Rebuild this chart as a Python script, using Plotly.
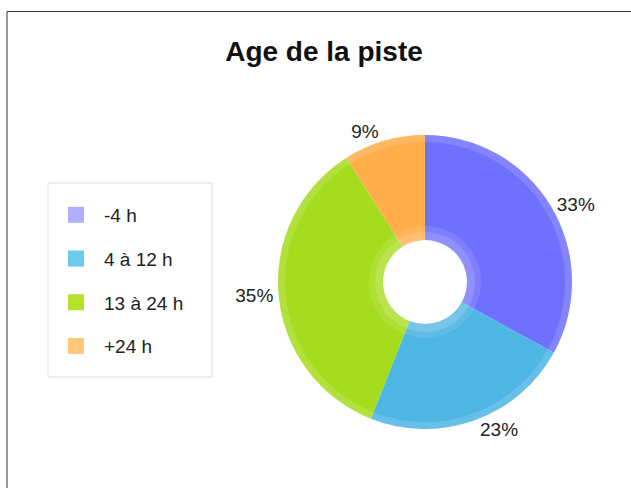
import plotly.graph_objects as go

# data
categories = ["-4 h", "4 à 12 h", "13 à 24 h", "+24 h"]
values = [33, 23, 35, 9]
colors = ["#7070FF", "#4DB6E3", "#A6DC1E", "#FFAE4A"]
legend_colors = ["#B0B0FF", "#6ACBEA", "#B4E22A", "#FFC87A"]

W, H = 631, 488
cx, cy, R = 425, 282, 147   # donut centre / radius in px
r_hole = 42


def dom(r):
    return dict(x=[(cx - r)/W, (cx + r)/W], y=[1 - (cy + r)/H, 1 - (cy - r)/H])


fig = go.Figure()

# donut
fig.add_trace(go.Pie(
    labels=categories, values=values, hole=r_hole/R,
    sort=False, direction="clockwise", rotation=0,
    marker=dict(colors=colors, line=dict(width=0)),
    textinfo="percent", texttemplate="%{percent:.0%}",
    textposition="outside", outsidetextfont=dict(size=19, color="#222"),
    domain=dom(R), showlegend=False, hoverinfo="label+percent",
))

# light rim on the outside and soft glow round the hole (the bevel look)
rings = [(R - 7, R, 0.14), (r_hole, r_hole + 14, 0.10), (r_hole, r_hole + 8, 0.14)]
for r_in, r_out, a in rings:
    fig.add_trace(go.Pie(
        labels=categories, values=values, hole=r_in/r_out, sort=False,
        marker=dict(colors=["rgba(255,255,255,%s)" % a]*4, line=dict(width=0)),
        textinfo="none", domain=dom(r_out), showlegend=False, hoverinfo="skip",
    ))

# legend entries (one group each so the gap can be spaced like the original)
for name, c in zip(categories, legend_colors):
    fig.add_trace(go.Scatter(
        x=[None], y=[None], mode="markers", name=name, legendgroup=name,
        marker=dict(symbol="square", size=16, color=c, line=dict(width=0)),
    ))

# legend box
fig.add_shape(type="rect", xref="paper", yref="paper",
              x0=48/W, x1=212/W, y0=1-377/H, y1=1-183/H,
              line=dict(color="#DDDDDD", width=1), layer="below")

# outer frame (only top and left edges show in the original)
fig.add_shape(type="rect", xref="paper", yref="paper",
              x0=7/W, x1=1.2, y0=-0.2, y1=1-11.5/H,
              line=dict(color="#333", width=1))

fig.update_layout(
    width=W, height=H,
    margin=dict(l=0, r=0, t=0, b=0),
    paper_bgcolor="white", plot_bgcolor="rgba(0,0,0,0)",
    font=dict(family="Liberation Sans, Arial, sans-serif", color="#222"),
    title=dict(text="<b>Age de la piste</b>", x=324/W, xanchor="center",
               y=1-51/H, yanchor="middle", font=dict(size=28, color="#111")),
    xaxis=dict(visible=False), yaxis=dict(visible=False),
    legend=dict(x=48/W, y=1-196/H, xanchor="left", yanchor="top",
                borderwidth=0, bgcolor="rgba(0,0,0,0)",
                font=dict(size=19, color="#222"), tracegroupgap=16,
                itemwidth=46),
)

# drop the page's default 8px body margin so the figure sits at 0,0
fig.write_html("out.html", config={"displayModeBar": False},
               post_script="document.body.style.margin='0';")
